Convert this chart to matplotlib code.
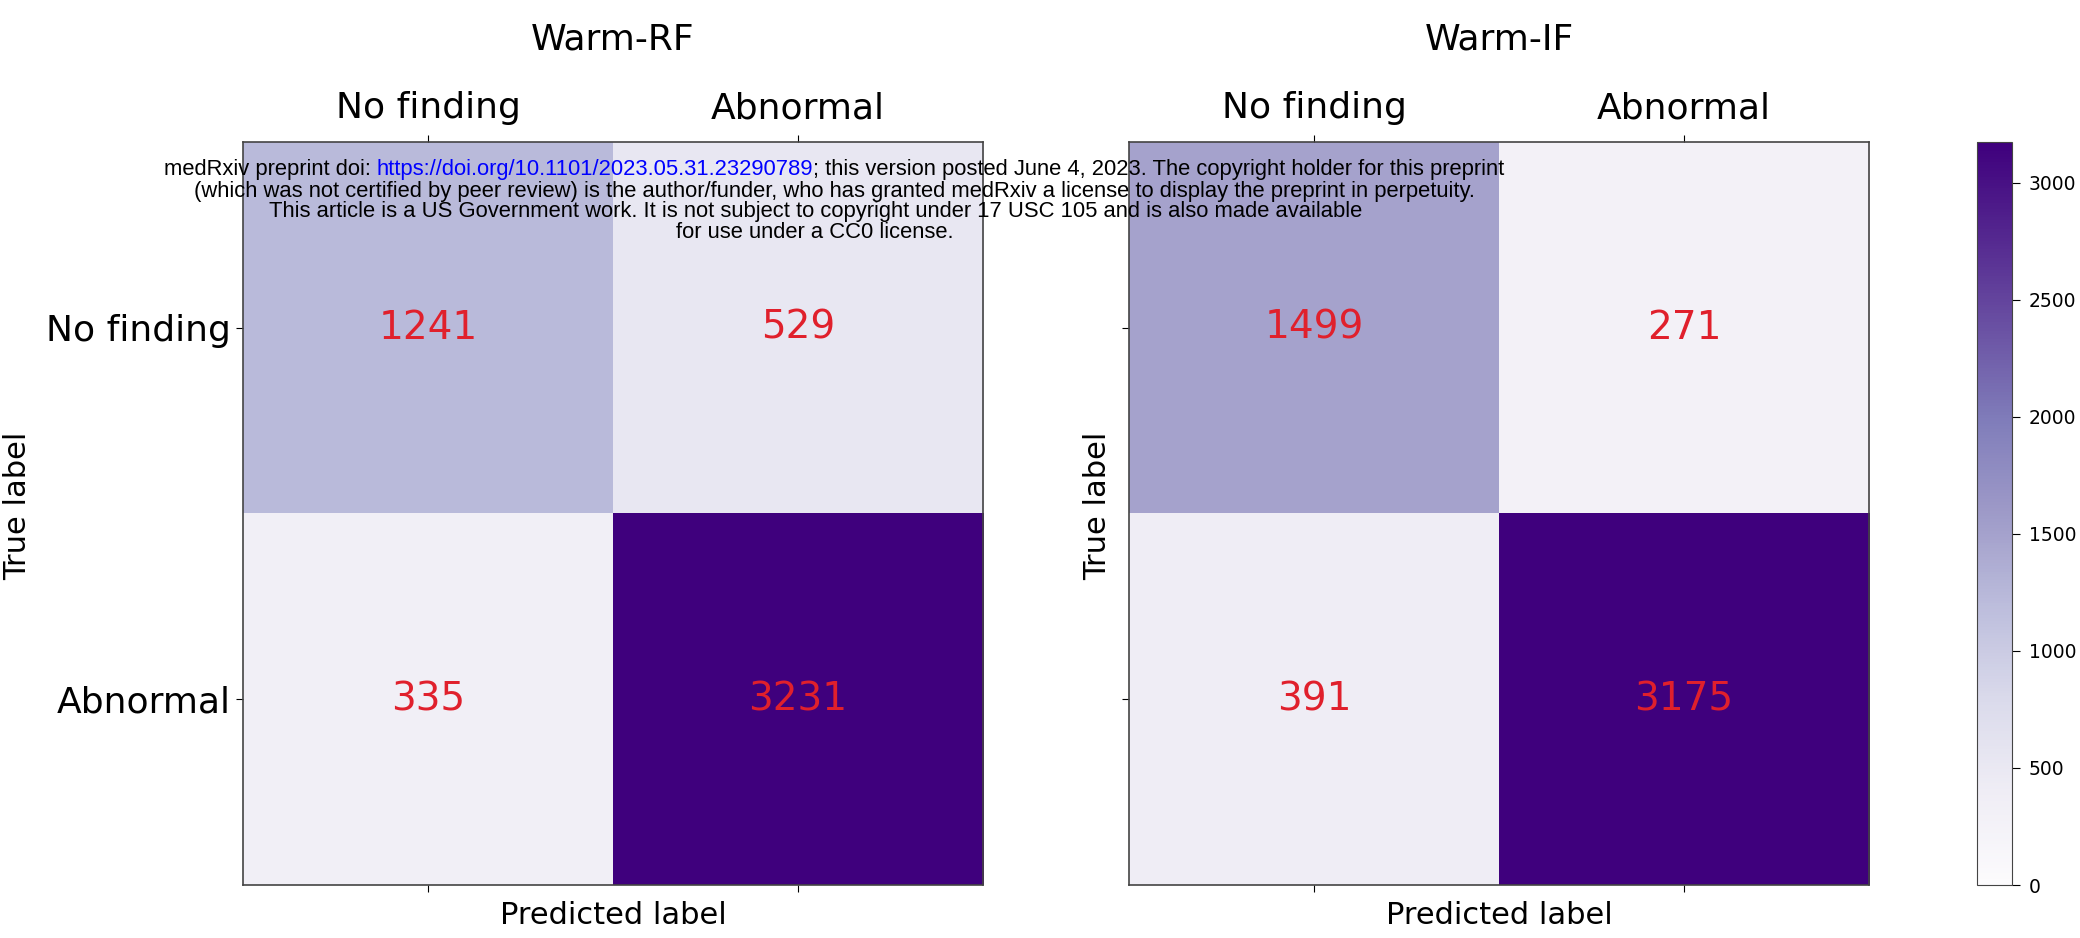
import numpy as np
import matplotlib
matplotlib.use("Agg")
import matplotlib.pyplot as plt
from matplotlib.colors import Normalize
from matplotlib.cm import ScalarMappable

# confusion matrices
class_names = ["No finding", "Abnormal"]
titles = ["Warm-RF", "Warm-IF"]
cm_rf = [[1241, 529], [335, 3231]]
cm_if = [[1499, 271], [391, 3175]]
cbar_ticks = [0, 500, 1000, 1500, 2000, 2500, 3000]

fig = plt.figure(figsize=(20.8, 9.38), dpi=100)

ax_rf = fig.add_axes([0.1168, 0.0565, 0.3558, 0.7921])
ax_if = fig.add_axes([0.5428, 0.0565, 0.3558, 0.7921])
cax = fig.add_axes([0.9505, 0.0565, 0.0168, 0.7921])

for ax, cm, title, show_y in [(ax_rf, cm_rf, titles[0], True), (ax_if, cm_if, titles[1], False)]:
    cm = np.array(cm)
    ax.imshow(cm, cmap="Purples", vmin=0, vmax=cm.max(), aspect="auto")
    for i in range(2):
        for j in range(2):
            ax.text(j, i, str(cm[i, j]), ha="center", va="center", color="#e0202c", fontsize=28)
    ax.set_xticks(range(2))
    ax.set_yticks(range(2))
    ax.xaxis.tick_top()
    ax.set_xticklabels(class_names, fontsize=26)
    if show_y:
        ax.set_yticklabels(class_names, fontsize=26)
    else:
        ax.set_yticklabels([])
    ax.tick_params(axis="x", length=5, pad=7, bottom=True, top=True, labelbottom=False, labeltop=True)
    ax.tick_params(axis="y", length=5, pad=4)
    ax.set_xlabel("Predicted label", fontsize=22)
    ax.xaxis.set_label_position("bottom")
    ax.xaxis.set_label_coords(0.5, -0.021)
    ax.set_ylabel("True label", fontsize=22)
    for sp in ax.spines.values():
        sp.set_color("#444444")
        sp.set_linewidth(1.2)
    ax.set_title(title, fontsize=26, y=1.124, pad=0)

ax_rf.yaxis.set_label_coords(-0.285, 0.51)
ax_if.yaxis.set_label_coords(-0.023, 0.51)

sm = ScalarMappable(norm=Normalize(vmin=0, vmax=max(max(r) for r in cm_if)), cmap="Purples")
cb = fig.colorbar(sm, cax=cax, ticks=cbar_ticks)
cb.ax.tick_params(labelsize=13.5, length=6, pad=6)
cb.outline.set_edgecolor("#444444")

# medRxiv watermark lines
wm_font = dict(family="Liberation Sans", fontsize=15.8, zorder=10)
prefix = "medRxiv preprint doi: "
url = "https://doi.org/10.1101/2023.05.31.23290789"
suffix = "; this version posted June 4, 2023. The copyright holder for this preprint"
other_lines = [
    ("(which was not certified by peer review) is the author/funder, who has granted medRxiv a license to display the preprint in perpetuity.", 834, 191),
    ("This article is a US Government work. It is not subject to copyright under 17 USC 105 and is also made available", 816, 211),
    ("for use under a CC0 license.", 815, 232),
]

W, H = 2080, 938
renderer = fig.canvas.get_renderer()
parts = [(prefix, "black"), (url, "#0000ff"), (suffix, "black")]
tmp = [fig.text(0, 0, s, **wm_font) for s, c in parts]
widths = [t.get_window_extent(renderer).width for t in tmp]
for t in tmp:
    t.remove()
x = 834 - sum(widths) / 2
for (s, c), w in zip(parts, widths):
    fig.text(x / W, 1 - 170 / H, s, color=c, va="center", ha="left", **wm_font)
    x += w
for s, xc, yc in other_lines:
    fig.text(xc / W, 1 - yc / H, s, color="black", va="center", ha="center", **wm_font)

fig.savefig("out.png", dpi=100)
